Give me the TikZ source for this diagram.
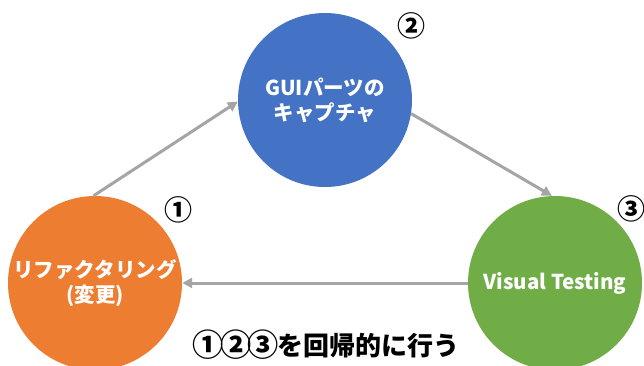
\documentclass[tikz,border=0pt]{standalone}
\usepackage{fontspec}
\setmainfont{Noto Sans CJK JP}
\usetikzlibrary{arrows.meta}
\definecolor{oorange}{HTML}{ED7D31}
\definecolor{oblue}{HTML}{4472C4}
\definecolor{ogreen}{HTML}{70AD47}
\definecolor{ogray}{HTML}{A5A5A5}
\newcommand{\circd}[1]{\makebox[27.5pt]{\raisebox{-1.8pt}{\scalebox{1.2}{#1}}}}
\tikzset{
  bubble/.style={circle, draw=none, minimum size=174pt, inner sep=0pt, text=white, align=center, font=\fontsize{20.5}{25}\selectfont\bfseries},
  flow/.style={draw=ogray, line width=3pt, -{Triangle[length=10pt,width=10pt]}},
  num/.style={font=\fontsize{28}{28}\selectfont\bfseries, text=black, inner sep=0pt}
}
\begin{document}
\begin{tikzpicture}[x=1pt,y=-1pt]
\useasboundingbox[fill=white] (0,0) rectangle (644,365);
\node[bubble, fill=oorange] (ref) at (95,283) {リファクタリング\\(変更)};
\node[bubble, fill=oblue] (gui) at (325,100) {GUIパーツの\\キャプチャ};
\node[bubble, fill=ogreen] (vt) at (555,283) {Visual Testing};
\draw[flow] (ref.91) -- (gui.181);
\draw[flow] (gui.-9) -- (vt.92);
\draw[flow] (vt.west) -- (ref.east);
\node[num] (n1) at (178,210) {①};
\node[num] (n2) at (411,26) {②};
\node[num] (n3) at (631,209) {③};
\node[font=\fontsize{26}{26}\selectfont\bfseries, inner sep=0pt] (cap) at (327,345) {\circd{①}\circd{②}\circd{③}を回帰的に行う};
\end{tikzpicture}
\end{document}
